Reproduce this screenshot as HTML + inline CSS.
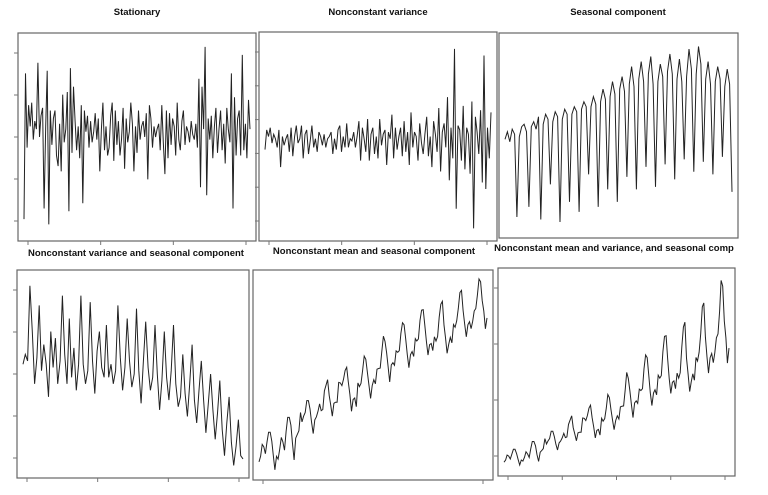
<!DOCTYPE html>
<html><head><meta charset="utf-8">
<style>
html,body{margin:0;padding:0;background:#fff;}
body{width:768px;height:495px;overflow:hidden;}
svg{display:block;font-family:"Liberation Sans",Arial,sans-serif;}
</style></head>
<body>
<svg id="chart" width="768" height="495" viewBox="0 0 768 495"></svg>
<script>
// ---- data ----
const stationary = [-3.2,2.3,-0.5,1.1,0.3,1.2,-0.2,0.5,0.2,2.7,-0.1,0.7,1.0,-2.8,0.3,2.4,-3.4,0.9,-0.4,0.6,0.9,-0.8,-1.2,0.4,-1.4,1.5,-0.3,0.2,1.6,-2.9,2.5,-0.7,1.8,0.5,-0.6,0.3,-0.9,1.1,-2.6,0.9,0.1,0.7,-0.5,0.5,-0.3,0.1,0.8,-0.2,0.6,-1.4,0.2,1.2,-0.6,0.3,-0.8,-0.5,0.7,1.2,-1.0,0.9,-0.4,0.5,-0.8,-0.2,1.0,-1.3,0.6,-0.3,0.1,1.2,0.4,-1.4,0.3,-0.7,0.9,-0.2,0.3,0.5,-0.1,0.8,-1.7,1.1,0.6,-0.5,0.3,-0.1,0.2,0.4,-0.6,1.1,-0.3,-1.5,0.9,-0.9,0.8,-0.4,0.6,0.3,-0.8,1.2,-0.2,-0.6,0.5,0.9,-0.4,0.3,0.1,-0.3,0.5,0.0,-0.2,0.4,-0.5,2.1,-2.0,1.8,0.2,3.3,-2.3,0.6,-0.2,0.7,-0.9,0.3,1.0,-0.7,0.2,0.9,-0.6,0.4,-1.1,1.0,0.2,-0.3,2.3,-2.8,1.4,-0.8,0.6,0.9,-0.8,3.0,-0.6,0.4,-0.9,1.3,0.2];
const nonconstVar = [-0.4,0.5,0.2,0.6,-0.1,0.3,0.1,-0.3,0.5,-1.2,0.2,-0.2,0.1,0.3,-0.5,0.6,-0.7,0.2,0.7,-0.1,0.1,0.7,-0.8,0.3,0.5,-0.6,0.0,0.7,-0.3,0.1,-0.5,0.4,0.2,-0.2,0.3,-0.3,0.1,0.2,0.4,-0.6,0.1,-0.4,0.5,0.7,-0.5,0.2,-0.3,0.8,-0.3,0.1,0.0,0.4,-0.3,0.2,0.9,-0.9,0.6,0.1,-0.5,1.0,-0.9,0.3,0.6,-0.6,0.2,-0.8,1.0,-0.2,0.3,0.5,-1.1,0.4,0.1,1.2,-0.8,0.6,-0.4,0.2,0.6,-0.7,0.9,-0.5,0.4,-1.1,1.3,-0.3,0.4,0.2,-0.9,0.8,-0.1,-0.6,0.3,1.1,-0.7,0.2,-1.2,0.9,0.3,-0.5,1.5,-1.4,0.4,0.8,-0.3,2.0,-1.8,0.6,-0.8,4.2,-3.1,0.7,0.5,-0.9,1.6,-1.3,0.6,0.3,-1.5,1.8,-4.0,1.1,0.4,-0.6,1.4,-1.9,3.9,-2.2,0.6,-0.8,1.3];
const seasonalComp = [0.3,0.6,0.2,0.7,0.5,-2.8,0.4,0.8,0.9,0.6,-2.4,0.8,1.0,0.7,1.2,-2.9,0.9,1.3,1.1,-1.5,1.0,1.4,1.2,-3.0,1.1,1.5,1.3,-2.2,1.3,1.6,1.4,-2.6,1.5,1.8,1.6,-1.1,1.6,2.0,1.7,-2.4,1.8,2.3,1.9,-1.7,2.0,2.6,2.1,-2.2,2.3,2.8,2.2,-1.2,2.5,3.2,2.4,-1.7,2.7,3.4,2.6,-0.8,2.9,3.6,2.5,-1.6,2.6,3.3,2.8,-0.7,3.0,3.7,2.9,-1.3,2.7,3.5,2.6,-0.5,2.8,3.9,3.1,-1.0,2.9,4.0,3.3,-0.6,2.7,3.4,2.5,-1.1,2.6,3.2,2.7,-0.4,2.4,3.1,2.5,-1.8];
const varSeasonal = [1.2,1.5,1.3,3.6,2.2,0.6,1.4,3.0,1.0,1.8,1.2,0.2,2.2,1.1,2.0,0.6,1.3,3.3,1.5,0.6,2.6,0.8,1.7,0.4,1.2,3.3,1.2,0.6,1.0,3.1,1.3,0.3,1.6,2.2,1.1,0.8,2.4,0.8,1.2,0.6,1.0,3.0,1.4,0.4,1.1,2.6,1.3,0.5,0.9,2.9,1.0,0.0,1.3,2.5,1.1,0.4,0.8,2.4,0.9,-0.2,0.7,2.2,0.8,0.1,1.0,2.4,0.6,-0.1,0.2,1.5,0.3,-0.4,0.6,1.8,0.1,-0.6,0.4,1.3,0.1,-0.9,0.0,0.9,-0.2,-1.1,-0.3,0.7,-0.8,-1.6,-0.6,0.2,-1.2,-1.9,-1.3,-0.5,-1.6,-1.7];
const airPassengers = [112,118,132,129,121,135,148,148,136,119,104,118,115,126,141,135,125,149,170,170,158,133,114,140,145,150,178,163,172,178,199,199,184,162,146,166,171,180,193,181,183,218,230,242,209,191,172,194,196,196,236,235,229,243,264,272,237,211,180,201,204,188,235,227,234,264,302,293,259,229,203,229,242,233,267,269,270,315,364,347,312,274,237,278,284,277,317,313,318,374,413,405,355,306,271,306,315,301,356,348,355,422,465,467,404,347,305,336,340,318,362,348,363,435,491,505,404,359,310,337,360,342,406,396,420,472,548,559,463,407,362,405,417,391,419,461,472,535,622,606,508,461,390,432];
const titles = ["Stationary","Nonconstant variance","Seasonal component","Nonconstant variance and seasonal component","Nonconstant mean and seasonal component","Nonconstant mean and variance, and seasonal comp"];
const svg = document.getElementById('chart');
const NS = 'http://www.w3.org/2000/svg';
function mk(tag, attrs){const e=document.createElementNS(NS,tag);for(const k in attrs)e.setAttribute(k,attrs[k]);svg.appendChild(e);return e;}

const panels = [
 {name:'stationary',data:stationary,x0:18,x1:256,y0:33,y1:241,lo:-3.8,hi:3.6,log:false,ty:15,tx:137,yt:5,xt:4},
 {name:'nonconstant-variance',data:nonconstVar,x0:259,x1:497,y0:32,y1:241,lo:-4.3,hi:4.7,log:false,ty:15,tx:378,yt:6,xt:4},
 {name:'seasonal-component',data:seasonalComp,x0:499,x1:738,y0:33,y1:238,lo:-3.4,hi:4.3,log:false,ty:15,tx:618,yt:0,xt:0},
 {name:'variance-seasonal',data:varSeasonal,x0:17,x1:249,y0:270,y1:478,lo:-2.1,hi:3.9,log:false,ty:256,tx:136,yt:5,xt:4},
 {name:'mean-seasonal',data:airPassengers,x0:253,x1:493,y0:270,y1:480,lo:Math.log(100),hi:Math.log(640),log:true,ty:254,tx:374,yt:0,xt:2},
 {name:'mean-variance-seasonal',data:airPassengers,x0:498,x1:735,y0:268,y1:476,lo:90,hi:640,log:false,ty:251,tx:614,yt:4,xt:5}
];
panels.forEach((p,i)=>{
  const n=p.data.length, pad=6;
  const xs=j=>p.x0+pad+(p.x1-p.x0-2*pad)*j/(n-1);
  const ys=v=>{const t=p.log?Math.log(v):v;return p.y1-pad-(p.y1-p.y0-2*pad)*(t-p.lo)/(p.hi-p.lo);};
  const t=mk('text',{x:p.tx,y:p.ty,'text-anchor':'middle','font-size':'9.5','font-weight':'bold',fill:'#111'});
  t.textContent=titles[i];
  
  
  const r=mk('rect',{x:p.x0,y:p.y0,width:p.x1-p.x0,height:p.y1-p.y0,fill:'none',stroke:'#666','stroke-width':1.2});
  
  
  for(let k=0;k<p.yt;k++){const yy=p.y0+20+(p.y1-p.y0-40)*k/Math.max(1,p.yt-1);mk('line',{x1:p.x0-4,x2:p.x0,y1:yy,y2:yy,stroke:'#777','stroke-width':1});}
  for(let k=0;k<p.xt;k++){const xx=p.x0+10+(p.x1-p.x0-20)*k/Math.max(1,p.xt-1);mk('line',{x1:xx,x2:xx,y1:p.y1,y2:p.y1+4,stroke:'#777','stroke-width':1});}
  let d='';p.data.forEach((v,j)=>{d+=(j?'L':'M')+xs(j).toFixed(1)+' '+ys(v).toFixed(1);});
  const path=mk('path',{d:d,fill:'none',stroke:'#222','stroke-width':1});
  
  
});
</script>
</body></html>
